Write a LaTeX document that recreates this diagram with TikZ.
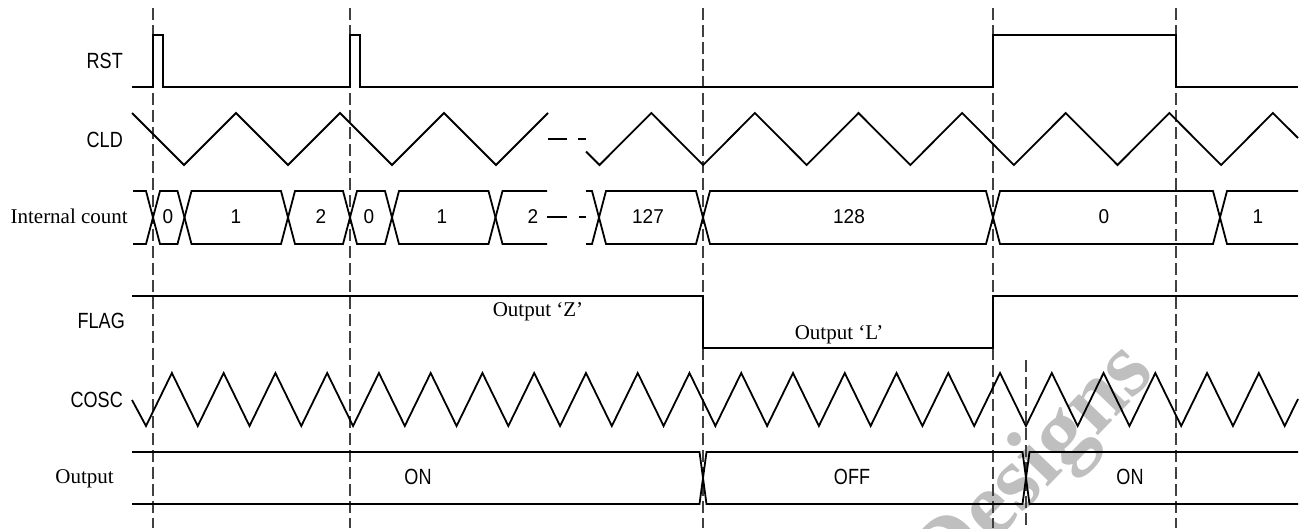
\documentclass[tikz,border=0pt]{standalone}
\usepackage{fontspec}
\setmainfont{Liberation Serif}
\newfontfamily\lblfont[FakeStretch=0.82]{Liberation Sans}
\newfontfamily\digfont[FakeStretch=0.95]{Liberation Sans}
\newfontfamily\wmfont{Liberation Serif}
\tikzset{
  sig/.style={line width=1.8pt, line join=miter, line cap=butt},
  guide/.style={line width=1.1pt, draw=black!75, dash pattern=on 12pt off 5pt},
  gapdash/.style={line width=1.3pt},
  sanslbl/.style={font=\lblfont\fontsize{22}{26}\selectfont, anchor=base east, inner sep=0pt},
  seriflbl/.style={font=\fontsize{21}{25}\selectfont, anchor=base east, inner sep=0pt},
  val/.style={font=\digfont\fontsize{20}{24}\selectfont, anchor=base, inner sep=0pt},
  stateval/.style={font=\lblfont\fontsize{22}{26}\selectfont, anchor=base, inner sep=0pt},
  note/.style={font=\fontsize{21}{25}\selectfont, anchor=base, inner sep=0pt},
  watermark/.style={font=\wmfont\bfseries\fontsize{92}{100}\selectfont, text=black!25, rotate=46, inner sep=0pt}
}
\begin{document}
\begin{tikzpicture}[x=1pt,y=-1pt]
\useasboundingbox (0,0) rectangle (1308,528);
% watermark
\node[watermark] (wm) at (1036,468) {Designs};
% guide lines
\foreach \gx in {153,350,703,993,1176} {\draw[guide] (\gx,8) -- (\gx,528);}
\draw[guide] (1026,360) -- (1026,528);
% labels
\node[sanslbl] (lrst) at (123,68) {RST};
\node[sanslbl] (lcld) at (123,147) {CLD};
\node[seriflbl] (lcnt) at (128,223) {Internal count};
\node[sanslbl] (lflag) at (125,328) {FLAG};
\node[sanslbl] (lcosc) at (123,407) {COSC};
\node[seriflbl] (lout) at (114,483) {Output};
% RST
\draw[sig] (132,87) -- (153,87) -- (153,35) -- (163,35) -- (163,87) -- (350,87) -- (350,35) -- (360,35) -- (360,87) -- (993,87) -- (993,35) -- (1176,35) -- (1176,87) -- (1298,87);
% CLD
\draw[sig] (132,113) -- (184,165) -- (236,113) -- (288,165) -- (340,113) -- (392,165) -- (444,113) -- (496,165) -- (548,113);
\draw[gapdash] (548,139) -- (567,139);
\draw[gapdash] (578,139) -- (586,139);
\draw[sig] (586,151.5) -- (599.5,165) -- (651.3,113) -- (703.1,165) -- (754.9,113) -- (806.7,165) -- (858.5,113) -- (910.3,165) -- (962.1,113) -- (1013.9,165) -- (1065.7,113) -- (1117.5,165) -- (1169.3,113) -- (1221.1,165) -- (1272.9,113) -- (1298,138);
% Internal count bus
\draw[sig] (133,191) -- (146,191) -- (160,244) -- (177.5,244) -- (191.5,191) -- (281,191) -- (295,244) -- (343,244) -- (357,191) -- (385,191) -- (399,244) -- (488.5,244) -- (502.5,191) -- (547,191);
\draw[sig] (133,244) -- (146,244) -- (160,191) -- (177.5,191) -- (191.5,244) -- (281,244) -- (295,191) -- (343,191) -- (357,244) -- (385,244) -- (399,191) -- (488.5,191) -- (502.5,244) -- (547,244);
\draw[sig] (586,191) -- (592,191) -- (606,244) -- (696,244) -- (710,191) -- (986,191) -- (1000,244) -- (1213,244) -- (1227,191) -- (1298,191);
\draw[sig] (586,244) -- (592,244) -- (606,191) -- (696,191) -- (710,244) -- (986,244) -- (1000,191) -- (1213,191) -- (1227,244) -- (1298,244);
\draw[gapdash] (547,217) -- (567,217);
\draw[gapdash] (579,217) -- (586,217);
\node[val] (c0a) at (168,223) {0};
\node[val] (c1a) at (236,223) {1};
\node[val] (c2a) at (321,223) {2};
\node[val] (c0b) at (369,223) {0};
\node[val] (c1b) at (442,223) {1};
\node[val] (c2b) at (533,223) {2};
\node[val] (c127) at (648,223) {127};
\node[val] (c128) at (849,223) {128};
\node[val] (c0c) at (1104,223) {0};
\node[val] (c1c) at (1258,223) {1};
% FLAG
\draw[sig] (132,296) -- (703,296) -- (703,348) -- (993,348) -- (993,296) -- (1298,296);
\node[note] (oz) at (538,316) {Output ‘Z’};
\node[note] (ol) at (839,339) {Output ‘L’};
% COSC
\draw[sig] (132,400) foreach \k in {0,...,21} { -- ({146+51.76*\k},426) -- ({171.88+51.76*\k},373) } -- (1284.7,426) -- (1298,399);
% Output bus
\draw[sig] (132,452) -- (699.5,452) -- (706.5,504) -- (1022.5,504) -- (1029.5,452) -- (1298,452);
\draw[sig] (132,504) -- (699.5,504) -- (706.5,452) -- (1022.5,452) -- (1029.5,504) -- (1298,504);
\node[stateval] (on1) at (418,484) {ON};
\node[stateval] (off) at (852,484) {OFF};
\node[stateval] (on2) at (1130,484) {ON};
\end{tikzpicture}
\end{document}
